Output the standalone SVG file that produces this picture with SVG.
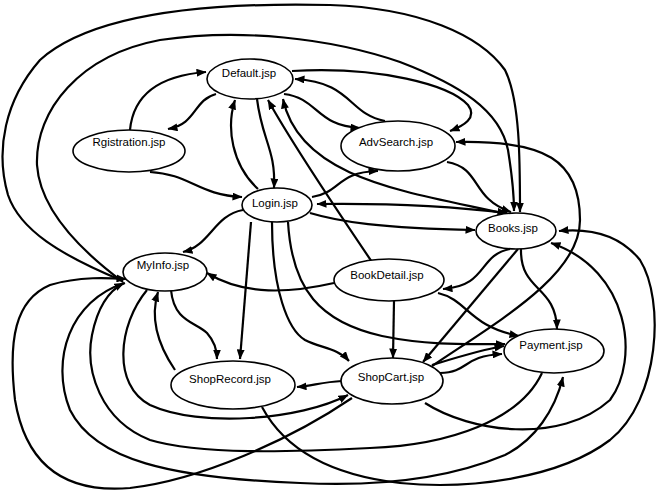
<svg xmlns="http://www.w3.org/2000/svg" width="664" height="492" viewBox="0 0 664 492">
<style>
.e{fill:none;stroke:#000;stroke-width:2.2;marker-end:url(#ah)}
.nd ellipse{fill:#fff;stroke:#000;stroke-width:1.6}
.nd text{font-family:"Liberation Sans",Arial,sans-serif;font-size:11.5px;fill:#000;text-anchor:middle;dominant-baseline:central}
</style>
<defs>
<marker id="ah" viewBox="0 0 10 8" refX="9.5" refY="4" markerWidth="10" markerHeight="8" markerUnits="userSpaceOnUse" orient="auto"><path d="M0,0 L10,4 L0,8 z"/></marker>
<marker id="as" viewBox="0 0 10 8" refX="0.5" refY="4" markerWidth="10" markerHeight="8" markerUnits="userSpaceOnUse" orient="auto"><path d="M10,0 L0,4 L10,8 z"/></marker>
</defs>
<rect width="664" height="492" fill="#fff"/>
<g id="connectors">
<path class="e" d="M130,130 C133,98 155,76 206,72"/>
<path class="e" d="M216,94 C193,100 197,124 168,129"/>
<path class="e" d="M150,172 C190,174 198,195 242,197"/>
<path class="e" d="M258,189 C232,165 226,128 235,100"/>
<path class="e" d="M257,99 C262,140 276,150 274,188"/>
<path class="e" d="M372,262 C330,200 290,140 268,100"/>
<path class="e" d="M506,214 C410,192 300,180 283,99"/>
<path class="e" d="M284,94 C318,98 316,126 360,128"/>
<path class="e" d="M385,121 C348,114 352,82 295,79"/>
<path class="e" d="M292,71 C380,66 450,85 468,105 C478,118 463,126 450,131"/>
<path class="e" d="M312,197 C342,192 336,172 378,171"/>
<path class="e" style="marker-start:url(#as)" d="M317,204 C390,203 450,206 507,213"/>
<path class="e" d="M310,213 C340,222 380,228 475,230"/>
<path class="e" d="M243,210 C214,215 210,246 183,252"/>
<path class="e" d="M334,283 C290,293 245,296 207,273"/>
<path class="e" d="M251,222 L240,359"/>
<path class="e" d="M272,222 C272,290 288,330 305,340 C320,348 338,348 349,361"/>
<path class="e" d="M288,222 C292,290 320,322 382,336 C430,346 470,344 505,344"/>
<path class="e" d="M438,293 C468,300 468,326 519,336"/>
<path class="e" d="M510,249 C478,255 488,286 443,289"/>
<path class="e" d="M518,249 L423,362"/>
<path class="e" d="M521,249 C520,292 556,285 557,329"/>
<path class="e" d="M447,162 C482,168 470,198 511,212"/>
<path class="e" d="M123,281 C60,255 20,230 8,195 C-5,150 5,100 40,60 C90,15 200,2 330,5 C420,8 480,35 505,70 C520,100 520,160 520,212"/>
<path class="e" d="M123,282 C80,250 40,210 37,165 C35,110 80,55 160,40 C240,28 330,38 400,62 C460,85 500,110 508,150 C512,175 514,195 514,211"/>
<path class="e" d="M171,290 C174,322 196,322 207,333 C215,342 217,350 217,359"/>
<path class="e" d="M175,370 C158,345 150,318 158,292"/>
<path class="e" d="M342,381 C322,382 312,386 297,387"/>
<path class="e" d="M394,301 L393,358"/>
<path class="e" d="M440,373 C470,372 462,356 502,354"/>
<path class="e" d="M432,365 C455,358 480,350 504,346"/>
<path class="e" d="M432,366 C500,320 580,275 580,220 C580,160 545,140 456,142"/>
<path class="e" d="M147,290 C118,325 112,385 150,405 C200,428 300,420 348,395"/>
<path class="e" d="M352,398 C290,440 200,480 130,488 C60,494 25,460 15,400 C8,340 15,300 50,285 C80,276 110,278 126,279"/>
<path class="e" d="M125,283 C70,300 50,360 70,410 C95,460 170,478 300,483 C380,487 450,478 505,455 C535,440 555,410 563,377"/>
<path class="e" d="M542,373 C520,420 450,445 370,448 C290,452 200,455 150,440 C100,420 85,370 92,335 C98,305 110,290 124,283"/>
<path class="e" d="M425,403 C470,432 560,445 610,400 C640,360 630,270 551,243"/>
<path class="e" d="M262,407 C285,450 330,475 400,483 C470,490 560,478 610,440 C660,400 665,300 640,260 C620,235 590,228 559,231"/>
</g>
<g id="n-default" class="nd"><ellipse cx="250" cy="79" rx="43" ry="20"/><text x="249" y="73">Default.jsp</text></g>
<g id="n-registration" class="nd"><ellipse cx="129" cy="151" rx="56" ry="21"/><text x="129" y="142">Rgistration.jsp</text></g>
<g id="n-login" class="nd"><ellipse cx="277" cy="205" rx="35" ry="17"/><text x="275" y="203">Login.jsp</text></g>
<g id="n-advsearch" class="nd"><ellipse cx="398" cy="146" rx="57" ry="25"/><text x="396" y="142">AdvSearch.jsp</text></g>
<g id="n-books" class="nd"><ellipse cx="516" cy="231" rx="40" ry="18"/><text x="513" y="228">Books.jsp</text></g>
<g id="n-myinfo" class="nd"><ellipse cx="165" cy="272" rx="42" ry="19"/><text x="163" y="265">MyInfo.jsp</text></g>
<g id="n-bookdetail" class="nd"><ellipse cx="389" cy="280" rx="55" ry="21"/><text x="387" y="275">BookDetail.jsp</text></g>
<g id="n-payment" class="nd"><ellipse cx="554" cy="351" rx="50" ry="22"/><text x="551" y="345">Payment.jsp</text></g>
<g id="n-shopcart" class="nd"><ellipse cx="392" cy="381" rx="51" ry="23"/><text x="391" y="377">ShopCart.jsp</text></g>
<g id="n-shoprecord" class="nd"><ellipse cx="233" cy="385" rx="62" ry="24"/><text x="230" y="379">ShopRecord.jsp</text></g>
</svg>
